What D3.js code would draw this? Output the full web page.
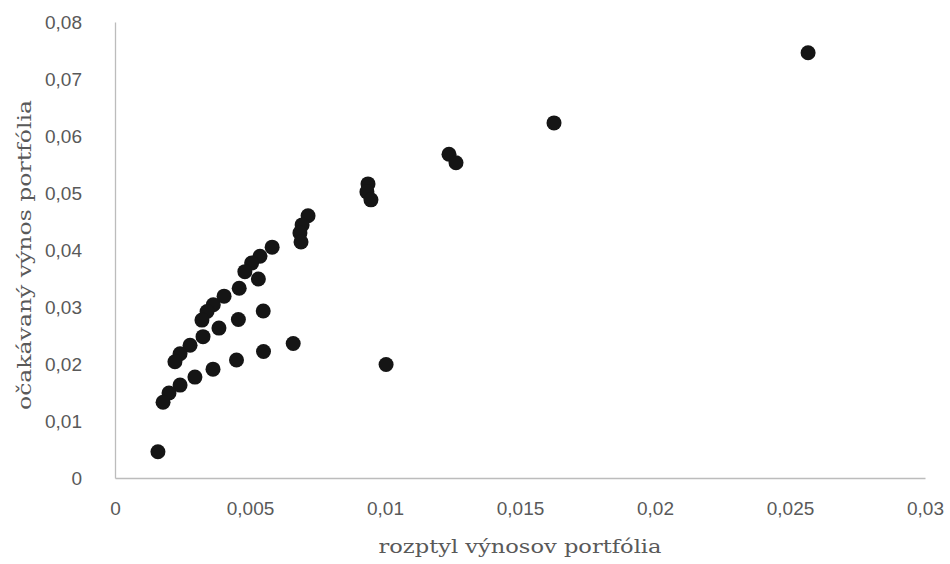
<!DOCTYPE html>
<html>
<head>
  <meta charset="utf-8">
  <title>Scatter</title>
  <script src="https://d3js.org/d3.v7.min.js"></script>
  <style>
    body { margin: 0; background: #fff; }
  </style>
</head>
<body>
  <script>
  // rozptyl (x) a ocakavany vynos (y) pre kazde portfolio
  var variance = [
    0.02567, 0.01626, 0.01237, 0.01263, 0.00937, 0.00933, 0.00948,
    0.00715, 0.00693, 0.00685, 0.00689, 0.00582, 0.00537, 0.00506,
    0.00481, 0.00531, 0.00460, 0.00404, 0.00364, 0.00341, 0.00322,
    0.00549, 0.00457, 0.00385, 0.00326, 0.00278, 0.00241, 0.00222,
    0.00660, 0.00550, 0.00450, 0.00363, 0.00296, 0.00241, 0.00200,
    0.00178, 0.00159, 0.01004
  ];
  var expReturn = [
    0.0746, 0.0623, 0.0568, 0.0553, 0.0516, 0.0502, 0.0488,
    0.0460, 0.0444, 0.0430, 0.0414, 0.0405, 0.0389, 0.0377,
    0.0362, 0.0349, 0.0333, 0.0319, 0.0304, 0.0292, 0.0277,
    0.0293, 0.0278, 0.0263, 0.0248, 0.0233, 0.0218, 0.0204,
    0.0236, 0.0222, 0.0207, 0.0191, 0.0177, 0.0163, 0.0149,
    0.0133, 0.0046, 0.0199
  ];
  var xTicks = [0, 0.005, 0.01, 0.015, 0.02, 0.025, 0.03];
  var yTicks = [0, 0.01, 0.02, 0.03, 0.04, 0.05, 0.06, 0.07, 0.08];
  var xTitle = "rozptyl výnosov portfólia";
  var yTitle = "očakávaný výnos portfólia";

  var width = 950, height = 564;
  var margin = { top: 22, right: 25, bottom: 86, left: 115 };

  var data = variance.map(function(v, i) { return { x: v, y: expReturn[i] }; });

  var svg = d3.select("body").append("svg")
    .attr("width", width).attr("height", height);

  var xScale = d3.scaleLinear().domain([0, 0.03]).range([margin.left, width - margin.right]);
  var yScale = d3.scaleLinear().domain([0, 0.08]).range([height - margin.bottom, margin.top]);

  var fmt = function(d) { return String(+d.toFixed(3)).replace(".", ","); };

  var gx = svg.append("g")
    .attr("transform", "translate(0," + (height - margin.bottom) + ")")
    .call(d3.axisBottom(xScale).tickValues(xTicks).tickFormat(fmt).tickSize(0).tickPadding(24));
  var gy = svg.append("g")
    .attr("transform", "translate(" + margin.left + ",0)")
    .call(d3.axisLeft(yScale).tickValues(yTicks).tickFormat(fmt).tickSize(0).tickPadding(33));

  [gx, gy].forEach(function(g) {
    g.select(".domain").attr("stroke", "#bcbcbc").attr("stroke-width", 1.3);
    g.selectAll("text")
      .attr("fill", "#595959")
      .attr("font-family", "'Liberation Sans', Arial, sans-serif")
      .attr("font-size", "19px");
  });

  // titulky osi
  svg.append("text")
    .attr("x", (margin.left + width - margin.right) / 2)
    .attr("y", 553)
    .attr("text-anchor", "middle")
    .attr("fill", "#595959")
    .attr("font-family", "'DejaVu Serif', serif")
    .attr("font-size", "18px")
    .attr("textLength", 283)
    .attr("lengthAdjust", "spacingAndGlyphs")
    .text(xTitle);

  svg.append("text")
    .attr("transform", "translate(31,255) rotate(-90)")
    .attr("text-anchor", "middle")
    .attr("fill", "#595959")
    .attr("font-family", "'DejaVu Serif', serif")
    .attr("font-size", "18px")
    .attr("textLength", 310)
    .attr("lengthAdjust", "spacingAndGlyphs")
    .text(yTitle);

  // body
  svg.selectAll(".dot")
    .data(data)
    .enter()
    .append("circle")
    .attr("class", "dot")
    .attr("cx", function(d) { return xScale(d.x); })
    .attr("cy", function(d) { return yScale(d.y); })
    .attr("r", 7.5)
    .attr("fill", "#151515");
  </script>
</body>
</html>
